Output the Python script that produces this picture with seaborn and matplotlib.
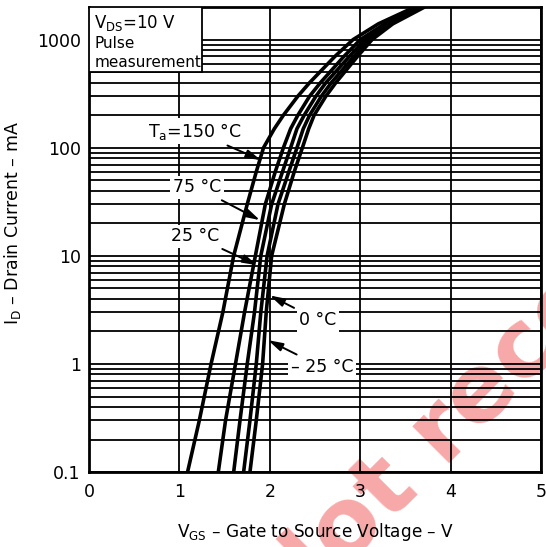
import matplotlib
matplotlib.use('Agg')
import matplotlib.pyplot as plt
import matplotlib.ticker as mticker
from matplotlib.patches import Rectangle
import seaborn as sns
import pandas as pd

# drain current levels (mA) and gate voltage (V)
current_ma = [0.1, 0.3, 1, 3, 10, 30, 60, 100, 150, 200, 300, 400, 700, 1000, 1400, 2000]
vgs_150 = [1.09, 1.22, 1.35, 1.48, 1.60, 1.75, 1.85, 1.93, 2.05, 2.15, 2.31, 2.44, 2.72, 2.92, 3.20, 3.60]
vgs_75 = [1.43, 1.51, 1.62, 1.72, 1.84, 1.95, 2.06, 2.15, 2.23, 2.31, 2.44, 2.56, 2.82, 3.00, 3.27, 3.65]
vgs_25 = [1.60, 1.67, 1.75, 1.83, 1.90, 2.02, 2.14, 2.23, 2.30, 2.38, 2.51, 2.62, 2.88, 3.05, 3.30, 3.67]
vgs_0 = [1.71, 1.78, 1.85, 1.90, 1.97, 2.09, 2.21, 2.30, 2.37, 2.44, 2.57, 2.68, 2.93, 3.09, 3.33, 3.69]
vgs_m25 = [1.78, 1.85, 1.92, 1.96, 2.02, 2.16, 2.27, 2.36, 2.43, 2.49, 2.62, 2.73, 2.97, 3.13, 3.36, 3.71]
temps = ['150', '75', '25', '0', '-25']

y_ticks = [0.1, 1, 10, 100, 1000]
y_tick_labels = ['0.1', '1', '10', '100', '1000']
x_ticks = [0, 1, 2, 3, 4, 5]


def main():
    sns.set_style('white')
    plt.rcParams['font.family'] = ['DejaVu Sans']
    plt.rcParams['mathtext.fontset'] = 'dejavusans'
    plt.rcParams['text.color'] = 'black'
    plt.rcParams['axes.labelcolor'] = 'black'

    rows = []
    for t, vals in zip(temps, [vgs_150, vgs_75, vgs_25, vgs_0, vgs_m25]):
        for v, i in zip(vals, current_ma):
            rows.append({'temp': t, 'vgs': v, 'id': i})
    df = pd.DataFrame(rows)

    fig = plt.figure(figsize=(5.46, 5.47), dpi=100)
    ax = fig.add_axes([0.163, 0.137, 0.828, 0.850])
    ax.patch.set_visible(False)

    sns.lineplot(data=df, x='vgs', y='id', hue='temp', hue_order=temps,
                 palette=['black'] * 5, sort=False, estimator=None,
                 linewidth=2.6, legend=False, ax=ax, zorder=4)

    ax.set_yscale('log')
    ax.set_xlim(0, 5)
    ax.set_ylim(0.1, 2000)
    ax.set_xticks(x_ticks)
    ax.set_xticklabels([str(x) for x in x_ticks])
    ax.set_yticks(y_ticks)
    ax.set_yticklabels(y_tick_labels)
    ax.yaxis.set_minor_locator(mticker.LogLocator(base=10, subs=range(2, 10)))
    ax.yaxis.set_minor_formatter(mticker.NullFormatter())
    ax.tick_params(which='both', length=0, labelsize=12.5, colors='black')
    ax.tick_params(axis='x', pad=8)
    ax.tick_params(axis='y', pad=6)

    ax.grid(True, which='both', axis='y', color='black', linewidth=1.3)
    ax.grid(True, which='major', axis='x', color='black', linewidth=1.3)
    for s in ax.spines.values():
        s.set_color('black')
        s.set_linewidth(2)

    ax.set_xlabel('V$_{\\rm GS}$ – Gate to Source Voltage – V', fontsize=12.2,
                  labelpad=14)
    ax.set_ylabel('I$_{\\rm D}$ – Drain Current – mA', fontsize=12.5)
    ax.yaxis.set_label_coords(-0.145, 0.535)

    # condition box in the top-left corner
    ax.add_patch(Rectangle((0, 0.86), 0.25, 0.14, transform=ax.transAxes,
                           facecolor='white', edgecolor='black', linewidth=1.3,
                           zorder=5))
    ax.text(0.012, 0.988, 'V$_{\\rm DS}$=10 V', transform=ax.transAxes,
            fontsize=12, va='top', ha='left', zorder=6)
    ax.text(0.012, 0.938, 'Pulse', transform=ax.transAxes,
            fontsize=11, va='top', ha='left', zorder=6)
    ax.text(0.012, 0.897, 'measurement', transform=ax.transAxes,
            fontsize=11, va='top', ha='left', zorder=6)

    arrow = dict(arrowstyle='-|>,head_length=0.7,head_width=0.2',
                 color='black', lw=1.4, shrinkA=2, shrinkB=0)
    box = dict(boxstyle='square,pad=0.15', facecolor='white', edgecolor='none')
    labels = [
        ('T$_{\\rm a}$=150 °C', (1.17, 142), (1.90, 77)),
        ('75 °C', (1.195, 43), (1.89, 21.4)),
        ('25 °C', (1.17, 15.2), (1.86, 8.2)),
        ('0 °C', (2.53, 2.55), (2.00, 4.3)),
        ('– 25 °C', (2.58, 0.93), (1.98, 1.66)),
    ]
    for txt, xy_text, xy_tip in labels:
        ax.annotate(txt, xy=xy_tip, xytext=xy_text, fontsize=12.5,
                    ha='center', va='center', bbox=box, arrowprops=arrow,
                    zorder=6)

    # watermark
    fig.text(0.527, -0.144, 'Not recommended', fontsize=68, fontweight='bold',
             color='#f7a8a8', rotation=45, rotation_mode='anchor',
             ha='left', va='baseline', zorder=-1)

    fig.savefig('out.png', dpi=100)
    plt.close(fig)


if __name__ == '__main__':
    main()
